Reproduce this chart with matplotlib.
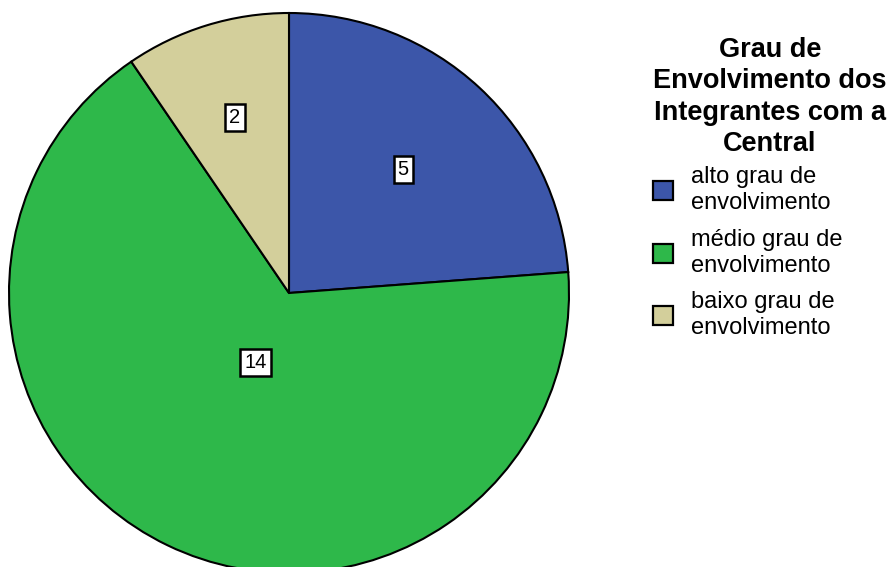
import matplotlib.pyplot as plt
import numpy as np
from matplotlib.patches import Patch

plt.rcParams['font.family'] = ['Liberation Sans', 'DejaVu Sans']

categorias = ["alto grau de\nenvolvimento", "médio grau de\nenvolvimento", "baixo grau de\nenvolvimento"]
valores = [5, 14, 2]
cores = ["#3C56A9", "#2EB84A", "#D3CF9B"]
titulo = "Grau de\nEnvolvimento dos\nIntegrantes com a\nCentral"

# distancia do rotulo ao centro (fracao do raio)
dist_rotulo = [0.60, 0.275, 0.655]

fig = plt.figure(figsize=(8.88, 5.67), dpi=100)
ax = fig.add_axes([9 / 888, -6 / 567, 560 / 888, 560 / 567])

wedges, _ = ax.pie(valores, colors=cores, startangle=90, counterclock=False,
                   radius=1, wedgeprops=dict(edgecolor="black", linewidth=1.5))
ax.set_xlim(-1.0, 1.0)
ax.set_ylim(-1.0, 1.0)
ax.set_aspect("equal")
ax.axis("off")

for w, v, d in zip(wedges, valores, dist_rotulo):
    ang = np.deg2rad((w.theta1 + w.theta2) / 2)
    ax.text(d * np.cos(ang), d * np.sin(ang), str(v), ha="center", va="center",
            fontsize=14.5,
            bbox=dict(boxstyle="square,pad=0.2", facecolor="white", edgecolor="black", linewidth=1.8))

handles = [Patch(facecolor=c, edgecolor="black", linewidth=1.6) for c in cores]
leg = fig.legend(handles, categorias, loc="upper left", bbox_to_anchor=(653 / 888, 1 - 37 / 567),
                 frameon=False, fontsize=17, title=titulo,
                 title_fontproperties=dict(weight="bold", size=19.5),
                 handlelength=0.85, handleheight=0.85, handletextpad=0.75,
                 labelspacing=0.6, borderpad=0, borderaxespad=0, alignment="left")
leg.get_title().set_linespacing(1.27)
leg.get_title().set_multialignment("center")
leg._legend_box.sep = 6.5  # aproxima as entradas do titulo
for t in leg.get_texts():
    t.set_linespacing(1.25)

fig.savefig("out.png", dpi=100)
